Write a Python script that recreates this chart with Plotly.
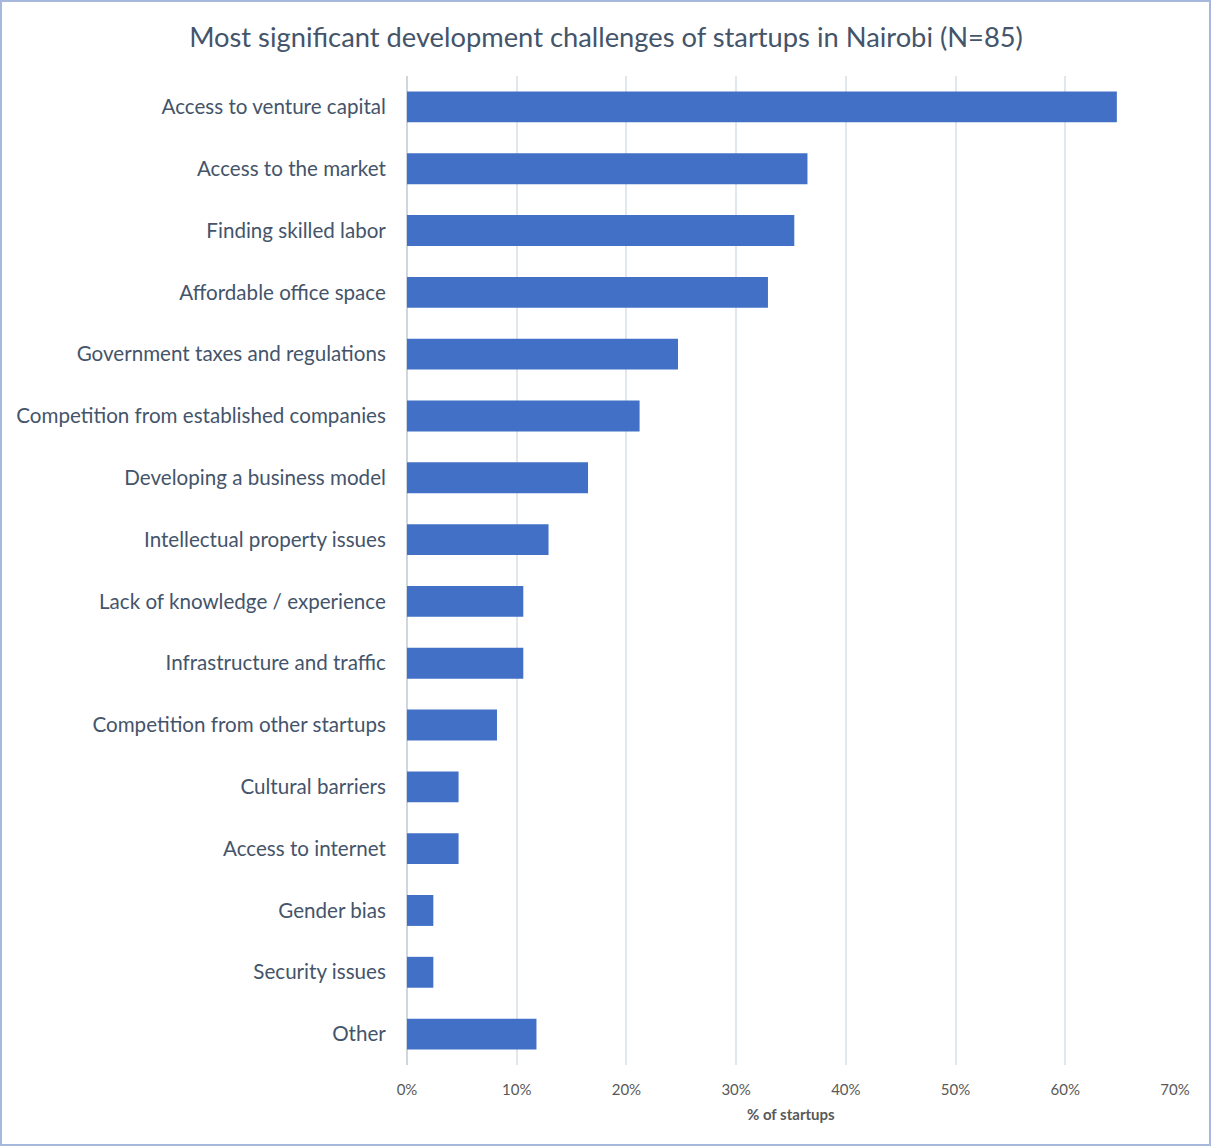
import plotly.graph_objects as go

categories = [
    "Access to venture capital",
    "Access to the market",
    "Finding skilled labor",
    "Affordable office space",
    "Government taxes and regulations",
    "Competition from established companies",
    "Developing a business model",
    "Intellectual property issues",
    "Lack of knowledge / experience",
    "Infrastructure and traffic",
    "Competition from other startups",
    "Cultural barriers",
    "Access to internet",
    "Gender bias",
    "Security issues",
    "Other",
]
values = [64.7, 36.5, 35.3, 32.9, 24.7, 21.2, 16.5, 12.9, 10.6, 10.6, 8.2, 4.7, 4.7, 2.4, 2.4, 11.8]
tick_vals = [0, 10, 20, 30, 40, 50, 60, 70]
tick_text = ["0%", "10%", "20%", "30%", "40%", "50%", "60%", "70%"]

W, H = 1212, 1148
L, R, T, B = 407, 37, 76, 83
pw, ph = W - L - R, H - T - B

font = "Lato, Calibri, Carlito, sans-serif"

fig = go.Figure(go.Bar(
    x=values,
    y=categories,
    orientation="h",
    marker=dict(color="#4270c7", line=dict(width=0)),
    width=0.5,
))

fig.update_layout(
    width=W, height=H,
    margin=dict(l=L, r=R, t=T, b=B),
    paper_bgcolor="white", plot_bgcolor="white",
    showlegend=False,
    title=dict(
        text="Most significant development challenges of startups in Nairobi (N=85)",
        x=0.5, xanchor="center", xref="container",
        y=1 - 37 / H, yanchor="middle", yref="container",
        font=dict(family=font, size=27.3, color="#44546a"),
    ),
    xaxis=dict(
        range=[0, 70], tickvals=tick_vals, ticktext=tick_text,
        showgrid=True, gridcolor="#e2e6ed", gridwidth=1.5,
        zeroline=True, zerolinecolor="#d0d5de", zerolinewidth=1.5,
        showline=False,
        ticks="outside", ticklen=11, tickcolor="rgba(0,0,0,0)",
        tickfont=dict(family=font, size=15, color="#595959"),
        fixedrange=True,
    ),
    yaxis=dict(
        autorange="reversed",
        showgrid=False, showline=False,
        ticks="outside", ticklen=16, tickcolor="rgba(0,0,0,0)",
        tickfont=dict(family=font, size=20.6, color="#44546a"),
        fixedrange=True,
    ),
    annotations=[dict(
        text="<b>% of startups</b>", x=0.5, xref="paper",
        y=-(1114 - (H - B)) / ph, yref="paper", yanchor="middle",
        showarrow=False, font=dict(family=font, size=15, color="#595959"),
    )],
    shapes=[
        dict(type="rect", xref="paper", yref="paper",
             x0=(1 - L) / pw, x1=(W - 2 - L) / pw,
             y0=1 + (T - 1) / ph, y1=-(H - 3 - (H - B)) / ph,
             line=dict(color="#a7b8dc", width=2), fillcolor="rgba(0,0,0,0)",
             layer="below"),
    ],
)

fig.write_html("out.html")
